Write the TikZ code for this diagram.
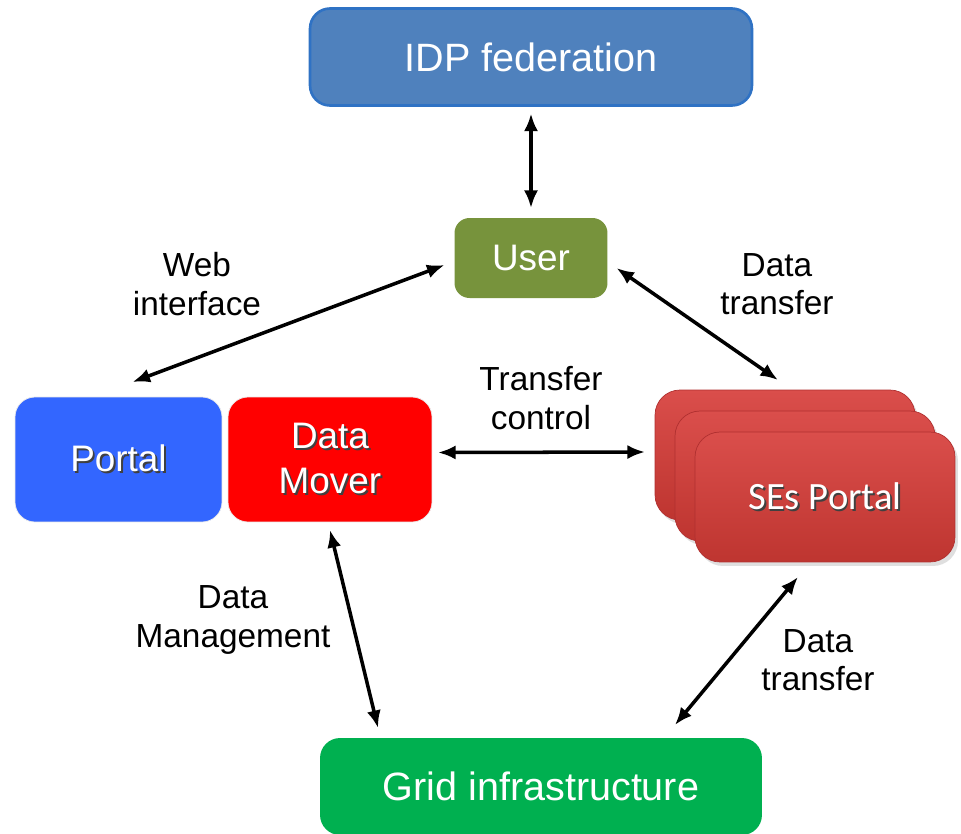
\documentclass[tikz,border=0pt]{standalone}
\usepackage{fontspec}
\setmainfont{Liberation Sans}
\newfontfamily\carlito{Carlito}
\usetikzlibrary{arrows.meta,shadows}

\definecolor{idpblue}{HTML}{4F81BD}
\definecolor{idpedge}{HTML}{2F72C4}
\definecolor{usergreen}{HTML}{77933C}
\definecolor{portalblue}{HTML}{3366FF}
\definecolor{moverred}{HTML}{FF0000}
\definecolor{gridgreen}{HTML}{00B050}
\definecolor{setop}{HTML}{DA4E4B}
\definecolor{sebottom}{HTML}{BE3530}
\definecolor{seedge}{HTML}{B03030}

% white text with a dark shadow
\newcommand{\shtext}[1]{\makebox[0pt][l]{\raisebox{-1.1pt}{\hspace{1.1pt}\textcolor{black!75}{#1}}}#1}

\begin{document}
\begin{tikzpicture}
[ x=0.02cm, y=-0.02cm
, box/.style={rectangle, rounded corners=4mm, outer sep=0pt, inner sep=0pt, align=center, text=white}
, bigbox/.style={box, minimum width=8.84cm, minimum height=1.94cm, font=\fontsize{22.5}{26}\selectfont}
, midbox/.style={box, minimum width=4.1cm, minimum height=2.5cm, draw=white!92!black, font=\fontsize{21}{25.5}\selectfont}
, sebox/.style={box, rounded corners=5mm, minimum width=5.2cm, minimum height=2.6cm, top color=setop, bottom color=sebottom, draw=seedge, drop shadow={opacity=0.25, shadow xshift=0.6mm, shadow yshift=-0.8mm}}
, note/.style={align=center, font=\fontsize{19}{22}\selectfont}
, link/.style={line width=2pt, {Latex[length=10pt,width=8pt]}-{Latex[length=10pt,width=8pt]}}
]
\clip (0,0) rectangle (961,833);
\fill [white] (0,0) rectangle (961,833);

% Top and centre:
\node (idp) [bigbox, fill=idpblue, draw=idpedge, line width=1.5pt] at (531,57) {IDP federation};
\node (user) [box, fill=usergreen, rounded corners=3mm, minimum width=3.06cm, minimum height=1.6cm, font=\fontsize{21}{25}\selectfont] at (531,258) {User};

% Middle row:
\node (portal) [midbox, fill=portalblue, minimum width=4.14cm] at (118.5,459.5) {\shtext{Portal}};
\node (mover) [midbox, fill=moverred, minimum width=4.08cm] at (330,459.5) {\shtext{Data}\\\shtext{Mover}};
\node (seback) [sebox] at (785,455) {};
\node (semid) [sebox] at (805,476) {};
\node (ses) [sebox, font=\carlito\fontsize{22}{26}\selectfont] at (825,497) {\shtext{SEs Portal}};

% Bottom:
\node (grid) [bigbox, fill=gridgreen] at (541,786.5) {Grid infrastructure};

% Labels:
\node (web) [note] at (197,284) {Web\\interface};
\node (usertransfer) [note] at (777,284) {Data\\transfer};
\node (control) [note] at (541,398) {Transfer\\control};
\node (manage) [note] at (233,620) {Data\\Management};
\node (gridtransfer) [note] at (818,660) {Data\\transfer};

\draw [link] ([shift={(0,8)}]idp.south) -- ([shift={(0,-10)}]user.north);
\draw [link] ([shift={(-10,7)}]user.west) -- ([shift={(14,-15)}]portal.north);
\draw [link] ([shift={(9,10)}]user.east) -- ([shift={(-7,-10)}]seback.north);
\draw [link] ([shift={(6,-7)}]mover.east) -- ([shift={(-10,-3)}]seback.west);
\draw [link] ([shift={(0,8)}]mover.south) -- ([shift={(58,-10)}]grid.north west);
\draw [link] ([shift={(-27,15)}]ses.south) -- ([shift={(-87,-13)}]grid.north east);
\end{tikzpicture}
\end{document}
